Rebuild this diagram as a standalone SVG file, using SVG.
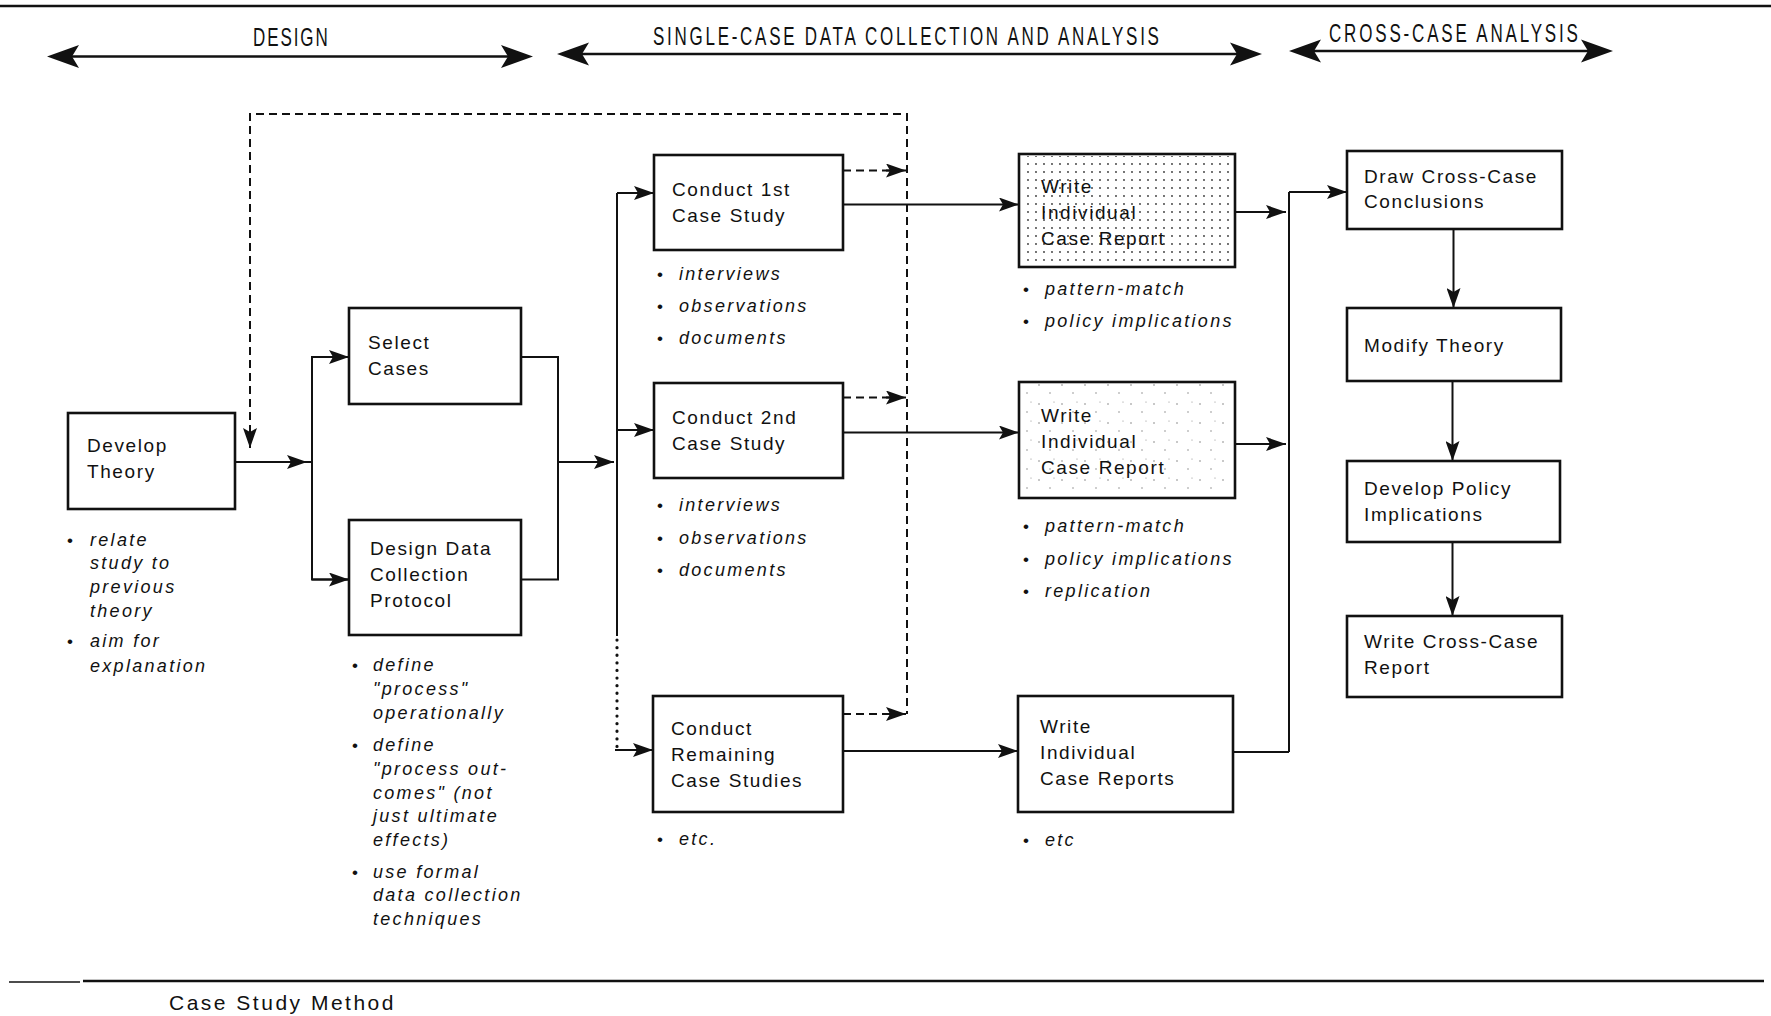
<svg xmlns="http://www.w3.org/2000/svg" width="1771" height="1016" viewBox="0 0 1771 1016">
<defs>
<style>
.box{fill:#fff;stroke:#111;stroke-width:2.6}
.lbl{font-family:"Liberation Sans",Arial,sans-serif;font-size:19px;letter-spacing:1.6px;fill:#111}
.bul{font-family:"Liberation Sans",Arial,sans-serif;font-size:18px;font-style:italic;letter-spacing:2.3px;fill:#111}
.dot{font-family:"Liberation Sans",Arial,sans-serif;font-size:17px;fill:#111}
.hdr{font-family:"Liberation Sans",Arial,sans-serif;font-size:25px;fill:#111}
.ln{fill:none;stroke:#111;stroke-width:2}
.dash{fill:none;stroke:#111;stroke-width:2;stroke-dasharray:8 5}
.dots{fill:none;stroke:#111;stroke-width:3.2;stroke-linecap:round;stroke-dasharray:0.1 7.5}
.rule{fill:none;stroke:#111;stroke-width:2.6}
.big{fill:#111}
</style>
<marker id="ah" markerUnits="userSpaceOnUse" markerWidth="21" markerHeight="14" refX="20" refY="7" orient="auto">
<path d="M0,0 L20,7 L0,14 L4,7 z" fill="#111"/>
</marker>
<pattern id="dense" patternUnits="userSpaceOnUse" width="8" height="8">
<circle cx="4" cy="4" r="0.9" fill="#333"/>
</pattern>
<pattern id="sparse" patternUnits="userSpaceOnUse" width="23" height="19">
<circle cx="4" cy="5" r="0.7" fill="#666"/>
<circle cx="15" cy="13" r="0.7" fill="#777"/>
<circle cx="19" cy="3" r="0.6" fill="#888"/>
</pattern>
</defs>
<rect width="1771" height="1016" fill="#fff"/>

<g id="frame">
<line class="rule" x1="0" y1="6" x2="1771" y2="6"/>
<line class="rule" x1="9" y1="982" x2="80" y2="982" style="stroke-width:1.6"/>
<line class="rule" x1="83" y1="981" x2="1764" y2="981"/>
<text x="169" y="1010" style="font-family:'Liberation Sans',Arial,sans-serif;font-size:21px;letter-spacing:2.5px;fill:#111">Case Study Method</text>
</g>

<g id="phase-headers">
<text class="hdr" transform="translate(253,46) scale(0.68,1)" textLength="110" lengthAdjust="spacing">DESIGN</text>
<line class="ln" x1="60" y1="56.5" x2="520" y2="56.5" style="stroke-width:2.4"/>
<path class="big" d="M47,56.5 L79,45 L72,56.5 L79,68 z"/>
<path class="big" d="M533,56.5 L501,45 L508,56.5 L501,68 z"/>

<text class="hdr" transform="translate(653,45) scale(0.68,1)" textLength="744" lengthAdjust="spacing">SINGLE-CASE DATA COLLECTION AND ANALYSIS</text>
<line class="ln" x1="570" y1="54" x2="1250" y2="54" style="stroke-width:2.4"/>
<path class="big" d="M557,54 L589,42.5 L582,54 L589,65.5 z"/>
<path class="big" d="M1262,54 L1230,42.5 L1237,54 L1230,65.5 z"/>

<text class="hdr" transform="translate(1329,42) scale(0.68,1)" textLength="366" lengthAdjust="spacing">CROSS-CASE ANALYSIS</text>
<line class="ln" x1="1300" y1="51" x2="1600" y2="51" style="stroke-width:2.4"/>
<path class="big" d="M1289,51 L1321,39.5 L1314,51 L1321,62.5 z"/>
<path class="big" d="M1613,51 L1581,39.5 L1588,51 L1581,62.5 z"/>
</g>

<g id="connectors">
<line class="ln" x1="235" y1="462" x2="307" y2="462" marker-end="url(#ah)"/>
<line class="ln" x1="300" y1="462" x2="312" y2="462"/>
<polyline class="ln" points="349,357 312,357 312,579.5 349,579.5"/>
<line class="ln" x1="312" y1="357" x2="349" y2="357" marker-end="url(#ah)"/>
<line class="ln" x1="312" y1="579.5" x2="349" y2="579.5" marker-end="url(#ah)"/>
<polyline class="ln" points="521,357 558,357 558,579.5 521,579.5"/>
<line class="ln" x1="558" y1="462" x2="614" y2="462" marker-end="url(#ah)"/>
<line class="ln" x1="617" y1="193" x2="617" y2="636"/>
<line class="dots" x1="617" y1="640" x2="617" y2="748"/>
<line class="ln" x1="617" y1="193" x2="654" y2="193" marker-end="url(#ah)"/>
<line class="ln" x1="617" y1="430" x2="654" y2="430" marker-end="url(#ah)"/>
<line class="ln" x1="615" y1="750" x2="653" y2="750" marker-end="url(#ah)"/>
<line class="ln" x1="843" y1="204.5" x2="1019" y2="204.5" marker-end="url(#ah)"/>
<line class="ln" x1="843" y1="432.5" x2="1019" y2="432.5" marker-end="url(#ah)"/>
<line class="ln" x1="843" y1="751" x2="1018" y2="751" marker-end="url(#ah)"/>
<line class="ln" x1="1235" y1="212" x2="1286" y2="212" marker-end="url(#ah)"/>
<line class="ln" x1="1235" y1="444" x2="1286" y2="444" marker-end="url(#ah)"/>
<line class="ln" x1="1233" y1="752" x2="1289" y2="752"/>
<line class="ln" x1="1289" y1="192" x2="1289" y2="752"/>
<line class="ln" x1="1289" y1="192" x2="1347" y2="192" marker-end="url(#ah)"/>
<line class="ln" x1="1453.5" y1="229" x2="1453.5" y2="308" marker-end="url(#ah)"/>
<line class="ln" x1="1452.5" y1="381" x2="1452.5" y2="461" marker-end="url(#ah)"/>
<line class="ln" x1="1452.5" y1="542" x2="1452.5" y2="616" marker-end="url(#ah)"/>
<polyline class="dash" points="250,446 250,114 907,114 907,714"/>
<line class="ln" x1="250" y1="430" x2="250" y2="448" marker-end="url(#ah)"/>
<line class="dash" x1="843" y1="170.5" x2="890" y2="170.5"/>
<line class="ln" x1="886" y1="170.5" x2="906" y2="170.5" marker-end="url(#ah)"/>
<line class="dash" x1="843" y1="397.5" x2="890" y2="397.5"/>
<line class="ln" x1="886" y1="397.5" x2="906" y2="397.5" marker-end="url(#ah)"/>
<line class="dash" x1="843" y1="714" x2="890" y2="714"/>
<line class="ln" x1="886" y1="714" x2="906" y2="714" marker-end="url(#ah)"/>
</g>

<g id="develop-theory">
<rect class="box" x="68" y="413" width="167" height="96"/>
<text class="lbl" x="87" y="452">Develop</text>
<text class="lbl" x="87" y="478">Theory</text>
<text class="dot" x="67" y="546">•</text>
<text class="bul" x="90" y="546">relate</text>
<text class="bul" x="90" y="569">study to</text>
<text class="bul" x="90" y="593">previous</text>
<text class="bul" x="90" y="617">theory</text>
<text class="dot" x="67" y="647">•</text>
<text class="bul" x="90" y="647">aim for</text>
<text class="bul" x="90" y="672">explanation</text>
</g>

<g id="select-cases">
<rect class="box" x="349" y="308" width="172" height="96"/>
<text class="lbl" x="368" y="349">Select</text>
<text class="lbl" x="368" y="375">Cases</text>
</g>

<g id="design-protocol">
<rect class="box" x="349" y="520" width="172" height="115"/>
<text class="lbl" x="370" y="555">Design Data</text>
<text class="lbl" x="370" y="581">Collection</text>
<text class="lbl" x="370" y="607">Protocol</text>
<text class="dot" x="352" y="671">•</text>
<text class="bul" x="373" y="671">define</text>
<text class="bul" x="373" y="695">"process"</text>
<text class="bul" x="373" y="719">operationally</text>
<text class="dot" x="352" y="751">•</text>
<text class="bul" x="373" y="751">define</text>
<text class="bul" x="373" y="775">"process out-</text>
<text class="bul" x="373" y="799">comes" (not</text>
<text class="bul" x="373" y="822">just ultimate</text>
<text class="bul" x="373" y="846">effects)</text>
<text class="dot" x="352" y="878">•</text>
<text class="bul" x="373" y="878">use formal</text>
<text class="bul" x="373" y="901">data collection</text>
<text class="bul" x="373" y="925">techniques</text>
</g>

<g id="conduct-1st">
<rect class="box" x="654" y="155" width="189" height="95"/>
<text class="lbl" x="672" y="196">Conduct 1st</text>
<text class="lbl" x="672" y="222">Case Study</text>
<text class="dot" x="657" y="280">•</text>
<text class="bul" x="679" y="280">interviews</text>
<text class="dot" x="657" y="312">•</text>
<text class="bul" x="679" y="312">observations</text>
<text class="dot" x="657" y="344">•</text>
<text class="bul" x="679" y="344">documents</text>
</g>

<g id="conduct-2nd">
<rect class="box" x="654" y="383" width="189" height="95"/>
<text class="lbl" x="672" y="424">Conduct 2nd</text>
<text class="lbl" x="672" y="450">Case Study</text>
<text class="dot" x="657" y="511">•</text>
<text class="bul" x="679" y="511">interviews</text>
<text class="dot" x="657" y="544">•</text>
<text class="bul" x="679" y="544">observations</text>
<text class="dot" x="657" y="576">•</text>
<text class="bul" x="679" y="576">documents</text>
</g>

<g id="conduct-remaining">
<rect class="box" x="653" y="696" width="190" height="116"/>
<text class="lbl" x="671" y="735">Conduct</text>
<text class="lbl" x="671" y="761">Remaining</text>
<text class="lbl" x="671" y="787">Case Studies</text>
<text class="dot" x="657" y="845">•</text>
<text class="bul" x="679" y="845">etc.</text>
</g>

<g id="write-report-1">
<rect class="box" x="1019" y="154" width="216" height="113"/>
<rect x="1021" y="156" width="212" height="109" fill="url(#dense)"/>
<text class="lbl" x="1041" y="193">Write</text>
<text class="lbl" x="1041" y="219">Individual</text>
<text class="lbl" x="1041" y="245">Case Report</text>
<text class="dot" x="1023" y="295">•</text>
<text class="bul" x="1045" y="295">pattern-match</text>
<text class="dot" x="1023" y="327">•</text>
<text class="bul" x="1045" y="327">policy implications</text>
</g>

<g id="write-report-2">
<rect class="box" x="1019" y="382" width="216" height="116"/>
<rect x="1021" y="384" width="212" height="112" fill="url(#sparse)"/>
<text class="lbl" x="1041" y="422">Write</text>
<text class="lbl" x="1041" y="448">Individual</text>
<text class="lbl" x="1041" y="474">Case Report</text>
<text class="dot" x="1023" y="532">•</text>
<text class="bul" x="1045" y="532">pattern-match</text>
<text class="dot" x="1023" y="565">•</text>
<text class="bul" x="1045" y="565">policy implications</text>
<text class="dot" x="1023" y="597">•</text>
<text class="bul" x="1045" y="597">replication</text>
</g>

<g id="write-report-3">
<rect class="box" x="1018" y="696" width="215" height="116"/>
<text class="lbl" x="1040" y="733">Write</text>
<text class="lbl" x="1040" y="759">Individual</text>
<text class="lbl" x="1040" y="785">Case Reports</text>
<text class="dot" x="1023" y="846">•</text>
<text class="bul" x="1045" y="846">etc</text>
</g>

<g id="draw-conclusions">
<rect class="box" x="1347" y="151" width="215" height="78"/>
<text class="lbl" x="1364" y="183">Draw Cross-Case</text>
<text class="lbl" x="1364" y="208">Conclusions</text>
</g>

<g id="modify-theory">
<rect class="box" x="1347" y="308" width="214" height="73"/>
<text class="lbl" x="1364" y="352">Modify Theory</text>
</g>

<g id="develop-policy">
<rect class="box" x="1347" y="461" width="213" height="81"/>
<text class="lbl" x="1364" y="495">Develop Policy</text>
<text class="lbl" x="1364" y="521">Implications</text>
</g>

<g id="write-cross-case">
<rect class="box" x="1347" y="616" width="215" height="81"/>
<text class="lbl" x="1364" y="648">Write Cross-Case</text>
<text class="lbl" x="1364" y="674">Report</text>
</g>
</svg>
